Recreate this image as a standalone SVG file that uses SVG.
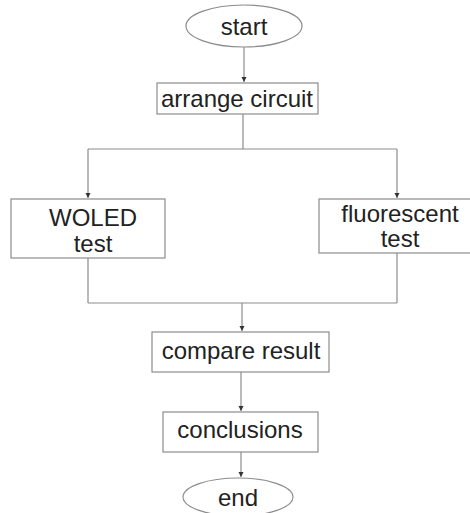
<svg xmlns="http://www.w3.org/2000/svg" width="470" height="513" viewBox="0 0 470 513">
<style>
.n{fill:#fff;stroke:#8c8c8c;stroke-width:1.2}
.t{font-family:"Liberation Sans",Arial,sans-serif;font-size:24px;fill:#222;text-anchor:middle}
.c{fill:none;stroke:#8c8c8c;stroke-width:1.2}
.a{marker-end:url(#ah)}
</style>
<defs>
<marker id="ah" markerWidth="6" markerHeight="6" refX="5" refY="3" orient="auto" markerUnits="userSpaceOnUse">
<path d="M0,0.5 L5,3 L0,5.5 Z" fill="#333"/>
</marker>
</defs>
<rect width="470" height="513" fill="#fff"/>
<g id="connectors">
<path class="c a" d="M244,47 V82"/>
<path class="c" d="M243,114 V149 M88,149 H397"/>
<path class="c a" d="M88,149 V198"/>
<path class="c a" d="M397,149 V198"/>
<path class="c" d="M88,258 V303 M397,253 V303 M88,303 H397"/>
<path class="c a" d="M242,303 V331"/>
<path class="c a" d="M241,372 V411"/>
<path class="c a" d="M241,452 V477"/>
</g>
<g id="start"><ellipse class="n" cx="244" cy="26" rx="58" ry="21"/><text class="t" x="244" y="35">start</text></g>
<g id="arrange"><rect class="n" x="157" y="83" width="161" height="31"/><text class="t" x="237" y="107">arrange circuit</text></g>
<g id="woled"><rect class="n" x="11" y="199" width="154" height="59"/><text class="t" x="93" y="226">WOLED</text><text class="t" x="93" y="252">test</text></g>
<g id="fluorescent"><rect class="n" x="319" y="199" width="160" height="54"/><text class="t" x="400" y="222">fluorescent</text><text class="t" x="400" y="247">test</text></g>
<g id="compare"><rect class="n" x="152" y="332" width="177" height="40"/><text class="t" x="241" y="359">compare result</text></g>
<g id="conclusions"><rect class="n" x="163" y="412" width="155" height="40"/><text class="t" x="240" y="438">conclusions</text></g>
<g id="end"><ellipse class="n" cx="238" cy="497" rx="55" ry="19"/><text class="t" x="238" y="506">end</text></g>
</svg>
